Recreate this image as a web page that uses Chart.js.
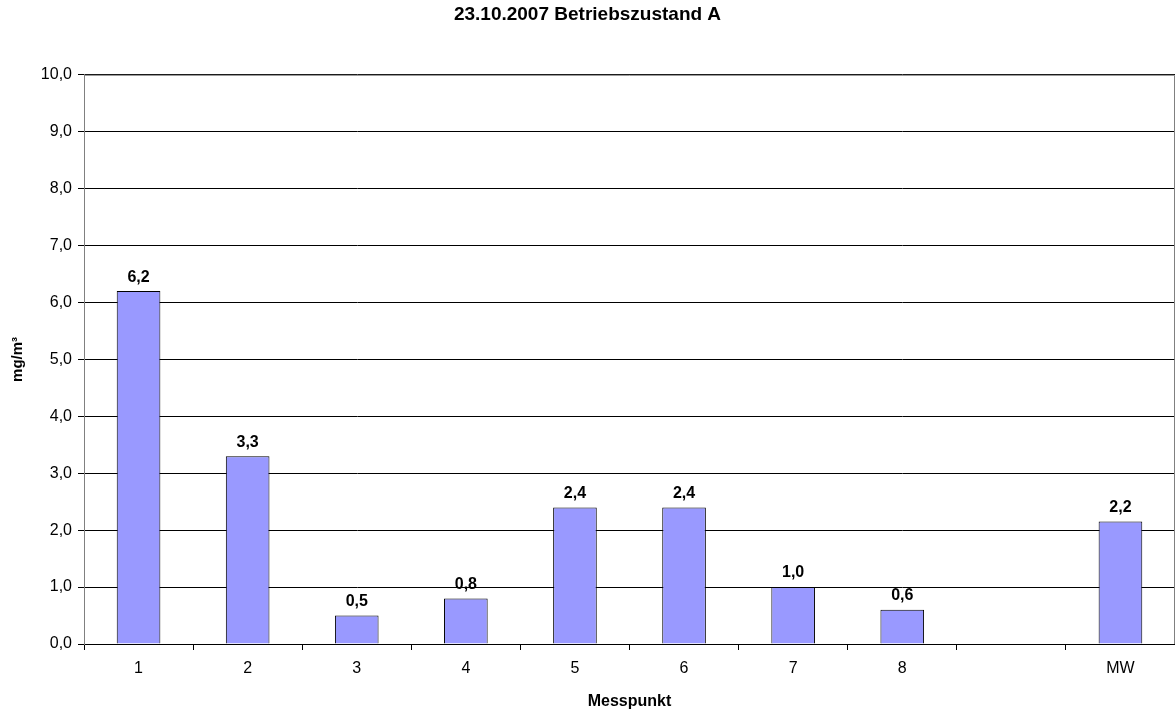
<!DOCTYPE html>
<html>
<head>
<meta charset="utf-8">
<script src="https://cdn.jsdelivr.net/npm/chart.js@4/dist/chart.umd.min.js"></script>
<style>
  html, body { margin: 0; padding: 0; background: #fff; }
  #wrap { width: 1175px; height: 711px; }
</style>
</head>
<body>
<div id="wrap"><canvas id="chart" width="1175" height="711"></canvas></div>
<script>
// Messpunkte 1-8, eine leere Spalte, dann der Mittelwert
const categories = ['1', '2', '3', '4', '5', '6', '7', '8', '', 'MW'];
const values = [6.2, 3.3, 0.5, 0.8, 2.4, 2.4, 1.0, 0.6, null, 2.15];
const yTicks = [0, 1, 2, 3, 4, 5, 6, 7, 8, 9, 10];

const FONT = '"Liberation Sans", Arial, sans-serif';
const fmt = v => (Math.round(v * 10) / 10).toFixed(1).replace('.', ',');

// Werte fett über die Balken schreiben
const valueLabels = {
  id: 'valueLabels',
  afterDatasetsDraw(chart) {
    const ctx = chart.ctx;
    const meta = chart.getDatasetMeta(0);
    ctx.save();
    ctx.font = 'bold 16px ' + FONT;
    ctx.fillStyle = '#000';
    ctx.textAlign = 'center';
    ctx.textBaseline = 'bottom';
    meta.data.forEach((bar, i) => {
      const v = values[i];
      if (v == null) return;
      ctx.fillText(fmt(v), bar.x, bar.y - 6);
    });
    ctx.restore();
  }
};

// grauer Rahmen um die Zeichenfläche (oben, rechts, links)
const plotFrame = {
  id: 'plotFrame',
  beforeDatasetsDraw(chart) {
    const { ctx, chartArea: a } = chart;
    ctx.save();
    ctx.strokeStyle = '#808080';
    ctx.lineWidth = 1;
    ctx.beginPath();
    ctx.moveTo(a.left + 0.5, a.bottom);
    ctx.lineTo(a.left + 0.5, a.top + 0.5);
    ctx.lineTo(a.right - 0.5, a.top + 0.5);
    ctx.lineTo(a.right - 0.5, a.bottom);
    ctx.stroke();
    ctx.restore();
  }
};

new Chart(document.getElementById('chart').getContext('2d'), {
  type: 'bar',
  data: {
    labels: categories,
    datasets: [{
      data: values,
      backgroundColor: '#9999FF',
      borderColor: '#000',
      borderWidth: 1,
      categoryPercentage: 1,
      barPercentage: 0.4
    }]
  },
  options: {
    responsive: false,
    animation: false,
    layout: { padding: 0 },
    plugins: {
      legend: { display: false },
      tooltip: { enabled: false },
      title: {
        display: true,
        text: '23.10.2007 Betriebszustand A',
        color: '#000',
        font: { family: FONT, size: 19, weight: 'bold' },
        padding: { top: 3, bottom: 49 }
      }
    },
    scales: {
      x: {
        grid: { offset: true, drawOnChartArea: false, drawTicks: true, tickLength: 6, color: '#000' },
        border: { color: '#000' },
        ticks: { color: '#000', font: { family: FONT, size: 16 }, padding: 9, maxRotation: 0, autoSkip: false },
        title: { display: true, text: 'Messpunkt', color: '#000', font: { family: FONT, size: 16, weight: 'bold' }, padding: { top: 6, bottom: 0 } },
        afterFit(scale) { scale.height = 67; }
      },
      y: {
        min: 0,
        max: 10,
        afterBuildTicks(scale) { scale.ticks = yTicks.map(v => ({ value: v })); },
        grid: { color: '#000', tickLength: 6, drawTicks: true },
        border: { color: '#808080' },
        ticks: { color: '#000', font: { family: FONT, size: 16 }, padding: 6, callback: v => fmt(v) },
        title: { display: true, text: 'mg/m³', color: '#000', font: { family: FONT, size: 15, weight: 'bold' }, padding: { top: 9, bottom: 0 } },
        afterFit(scale) { scale.width = 84; }
      }
    }
  },
  plugins: [plotFrame, valueLabels]
});
</script>
</body>
</html>
